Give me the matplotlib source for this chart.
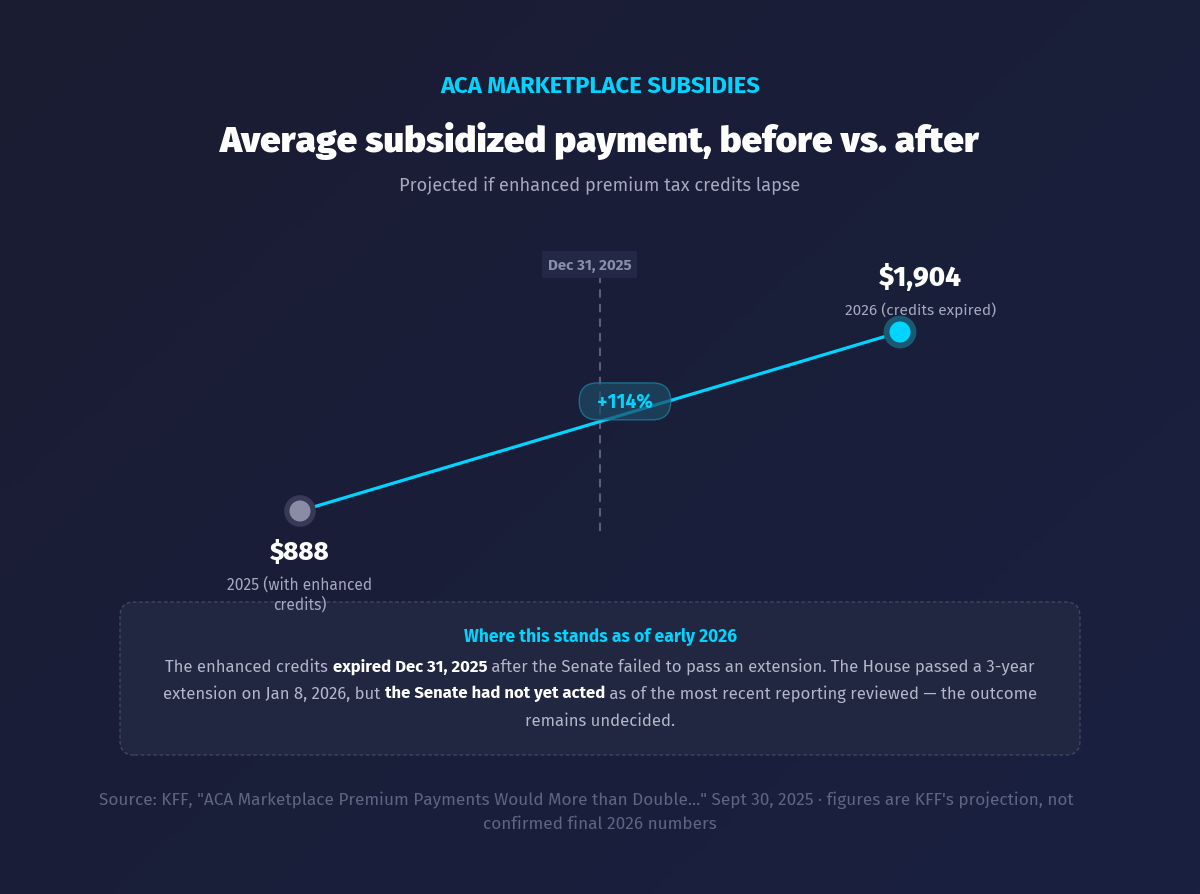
import numpy as np
import matplotlib
matplotlib.use("Agg")
import matplotlib.pyplot as plt
from matplotlib.patches import FancyBboxPatch

# ---------------- data ----------------
periods = ["2025", "2026"]
period_labels = ["2025 (with enhanced\ncredits)", "2026 (credits expired)"]
payments = [888, 1904]
divider_label = "Dec 31, 2025"

kicker = "ACA MARKETPLACE SUBSIDIES"
title = "Average subsidized payment, before vs. after"
subtitle = "Projected if enhanced premium tax credits lapse"
note_title = "Where this stands as of early 2026"
note_lines = [
    [("The enhanced credits ", False), ("expired Dec 31, 2025", True),
     (" after the Senate failed to pass an extension. The House passed a 3-year", False)],
    [("extension on Jan 8, 2026, but ", False), ("the Senate had not yet acted", True),
     (" as of the most recent reporting reviewed \u2014 the outcome", False)],
    [("remains undecided.", False)],
]
source_lines = [
    "Source: KFF, \"ACA Marketplace Premium Payments Would More than Double...\" Sept 30, 2025 \u00b7 figures are KFF's projection, not",
    "confirmed final 2026 numbers",
]

W, H = 1200, 895
BG = "#1b1d34"
CYAN = "#00d4ff"
GREY_TXT = "#a6aac0"
BODY_TXT = "#b3b7cb"
SRC_TXT = "#5f6482"
SANS = ["Fira Sans", "DejaVu Sans"]

fig = plt.figure(figsize=(W / 100, H / 100), dpi=100)
fig.patch.set_facecolor(BG)
renderer = fig.canvas.get_renderer()

def fx(x):
    return x / W

def fy(y):
    return 1 - y / H

def fit(t, target_px):
    w = t.get_window_extent(renderer).width
    t.set_fontsize(t.get_fontsize() * target_px / w)
    return t

# background gradient
bg_ax = fig.add_axes([0, 0, 1, 1], zorder=-10)
gx, gy = np.meshgrid(np.linspace(0, 1, 200), np.linspace(0, 1, 150))
t = np.clip(0.55 * gx + 0.45 * gy, 0, 1)
c0 = np.array([0x1b, 0x1c, 0x32]) / 255
c1 = np.array([0x19, 0x20, 0x40]) / 255
img = c0[None, None, :] * (1 - t[..., None]) + c1[None, None, :] * t[..., None]
bg_ax.imshow(img, extent=[0, 1, 0, 1], aspect="auto", origin="upper")
bg_ax.set_axis_off()

# header texts
fit(fig.text(0.5, fy(86), kicker, ha="center", va="center", color=CYAN,
             fontsize=14.5, fontweight="bold", family=SANS), 320)
fit(fig.text(0.5, fy(141), title, ha="center", va="center", color="white",
             fontsize=24, fontweight=900, family=SANS), 761)
fit(fig.text(0.5, fy(186), subtitle, ha="center", va="center", color=GREY_TXT,
             fontsize=12.3, family=SANS), 402)

# ---------------- chart axes ----------------
ax = fig.add_axes([fx(150), fy(560), 900 / W, 330 / H])
ax.set_facecolor("none")
xs = np.arange(len(payments))
ax.set_xlim(-0.25, 1.25)
px_per_dollar = (512 - 333) / (payments[1] - payments[0])
ymin = payments[0] - (560 - 512) / px_per_dollar
ymax = payments[1] + (333 - 230) / px_per_dollar
ax.set_ylim(ymin, ymax)
ax.set_axis_off()

# divider
ax.axvline(0.5, ymin=(560 - 532) / 330, ymax=(560 - 278) / 330,
           color="#5a5e7a", lw=1.5, ls=(0, (4, 3)), zorder=1)
dl = ax.annotate(divider_label, xy=(0.5, 1), xycoords=("data", "axes fraction"),
                 xytext=(-7.5, -25.5), textcoords="offset points", ha="center", va="center",
                 color="#8a8fa8", fontsize=9.2, fontweight="bold", family=SANS)
fit(dl, 83)
dl.set_bbox(dict(boxstyle="square,pad=0.4", fc="#222845", ec="none"))

# line
ax.plot(xs, payments, color=CYAN, lw=2.3, solid_capstyle="round", zorder=3)
halo_cols = ["#363a57", "#1b5872"]
dot_cols = ["#8a8ca6", CYAN]
ax.scatter(xs, payments, s=[520, 560], color=halo_cols, zorder=4, linewidths=0)
ax.scatter(xs, payments, s=[230, 230], color=dot_cols, zorder=5, linewidths=0)

# value labels
fit(ax.annotate(f"${payments[0]:,}", xy=(xs[0], payments[0]), xytext=(0, -29),
                textcoords="offset points", ha="center", va="center", color="white",
                fontsize=17, fontweight=800, family=SANS), 60)
fit(ax.annotate(period_labels[0], xy=(xs[0], payments[0]), xytext=(0, -59.5),
                textcoords="offset points", ha="center", va="center", color=GREY_TXT,
                fontsize=10.3, family=SANS, linespacing=1.3), 146)
fit(ax.annotate(f"${payments[1]:,}", xy=(xs[1], payments[1]), xytext=(14.5, 40),
                textcoords="offset points", ha="center", va="center", color="white",
                fontsize=17, fontweight=800, family=SANS), 83)
fit(ax.annotate(period_labels[1], xy=(xs[1], payments[1]), xytext=(14.5, 16.5),
                textcoords="offset points", ha="center", va="center", color=GREY_TXT,
                fontsize=10.3, family=SANS), 152)

# change pill
pct = (payments[1] - payments[0]) / payments[0] * 100
pill_txt = f"+{pct:.0f}%"
pill = ax.annotate(pill_txt, xy=(0.5, (payments[0] + payments[1]) / 2),
                   xytext=(18, 14.5), textcoords="offset points", ha="center", va="center",
                   color=CYAN, fontsize=12.5, fontweight="bold", family=SANS, zorder=6)
fit(pill, 56)
pill.set_text("  " + pill_txt + "  ")
pill.set_bbox(dict(boxstyle="round,pad=0.45,rounding_size=0.95",
                   fc="#1c4b66", ec="#1f86a8", lw=1.0, alpha=0.7))

# ---------------- note box ----------------
box = FancyBboxPatch((fx(120), fy(756)), 960 / W, 153 / H,
                     boxstyle="round,pad=0,rounding_size=0.012",
                     transform=fig.transFigure, fc="#222741", ec="#434965",
                     lw=0.9, ls=(0, (3, 2)), zorder=0, mutation_aspect=W / H)
fig.add_artist(box)
fit(fig.text(0.5, fy(636), note_title, ha="center", va="center", color=CYAN,
             fontsize=11.5, fontweight="bold", family=SANS), 272)

def build_line(segs, ly, size):
    texts, widths = [], []
    for s, b in segs:
        tt = fig.text(0, fy(ly), s, ha="left", va="center",
                      color="white" if b else BODY_TXT,
                      fontweight="bold" if b else "normal",
                      fontsize=size, family=SANS)
        texts.append(tt)
        widths.append(tt.get_window_extent(renderer).width)
    return texts, widths

probe, pw = build_line(note_lines[0], 667, 11.4)
body_size = 11.4 * 870 / sum(pw)
for tt in probe:
    tt.remove()

line_ys = [667, 694, 721]
for segs, ly in zip(note_lines, line_ys):
    texts, widths = build_line(segs, ly, body_size)
    x0 = (W - sum(widths)) / 2
    for tt, w in zip(texts, widths):
        tt.set_x(fx(x0))
        x0 += w

# source
src0 = fit(fig.text(fx(586.5), fy(800), source_lines[0], ha="center", va="center",
                    color=SRC_TXT, fontsize=11.5, family=SANS), 975)
fig.text(0.5, fy(824), source_lines[1], ha="center", va="center", color=SRC_TXT,
         fontsize=src0.get_fontsize(), family=SANS)

fig.savefig("out.png", dpi=100, facecolor=BG)
